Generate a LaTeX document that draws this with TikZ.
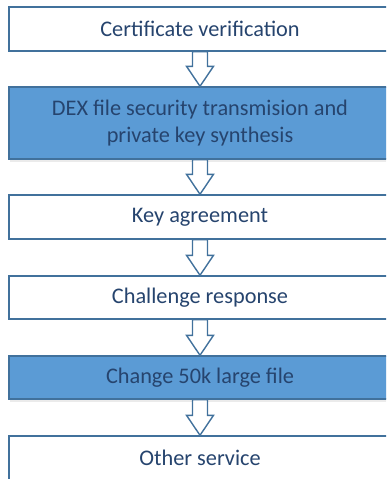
\documentclass[tikz,border=0pt]{standalone}
\usepackage{fontspec}
\setmainfont{Carlito}
\usetikzlibrary{calc,shadows}
\definecolor{boxline}{RGB}{65,113,156}
\definecolor{boxfill}{RGB}{91,155,213}
\definecolor{boxtext}{RGB}{38,68,110}
\tikzset{
  stage/.style={draw=boxline, line width=1.4pt, fill=white, text=boxtext,
    minimum width=382pt, inner sep=0pt, align=center,
    font=\fontsize{22.3pt}{27pt}\selectfont},
  keystage/.style={stage, fill=boxfill,
    drop shadow={shadow xshift=1pt, shadow yshift=-3pt, opacity=0.2, fill=black!40}},
  hollow/.style={draw=boxline, line width=1.4pt, fill=white, to path={
    ($(\tikztostart)+(-7.5pt,0)$) -- ($(\tikztotarget)+(-7.5pt,20pt)$)
    -- ($(\tikztotarget)+(-13.5pt,20pt)$) -- (\tikztotarget)
    -- ($(\tikztotarget)+(13.5pt,20pt)$) -- ($(\tikztotarget)+(7.5pt,20pt)$)
    -- ($(\tikztostart)+(7.5pt,0)$) -- cycle}}
}
\begin{document}
\begin{tikzpicture}[x=1pt,y=1pt]
      \useasboundingbox (0,0) rectangle (386,-479);
      \clip (0,0) rectangle (386,-479);
      \draw
        (200,-29) node[stage, minimum height=44pt] (cert){Certificate verification}
        (200,-123) node[keystage, minimum height=72pt] (dex){DEX file security transmision and\\private key synthesis}
        (200,-217) node[stage, minimum height=44pt] (agree){Key agreement}
        (200,-297.5) node[stage, minimum height=43pt] (chall){Challenge response}
        (200,-377.5) node[keystage, minimum height=43pt] (large){Change 50k large file}
        (200,-458) node[stage, minimum height=44pt] (other){Other service};
      \begin{scope}[-]
        \draw[hollow] (cert.south) to (dex.north);
        \draw[hollow] (dex.south) to (agree.north);
        \draw[hollow] (agree.south) to (chall.north);
        \draw[hollow] (chall.south) to (large.north);
        \draw[hollow] (large.south) to (other.north);
      \end{scope}
    \end{tikzpicture}
\end{document}
